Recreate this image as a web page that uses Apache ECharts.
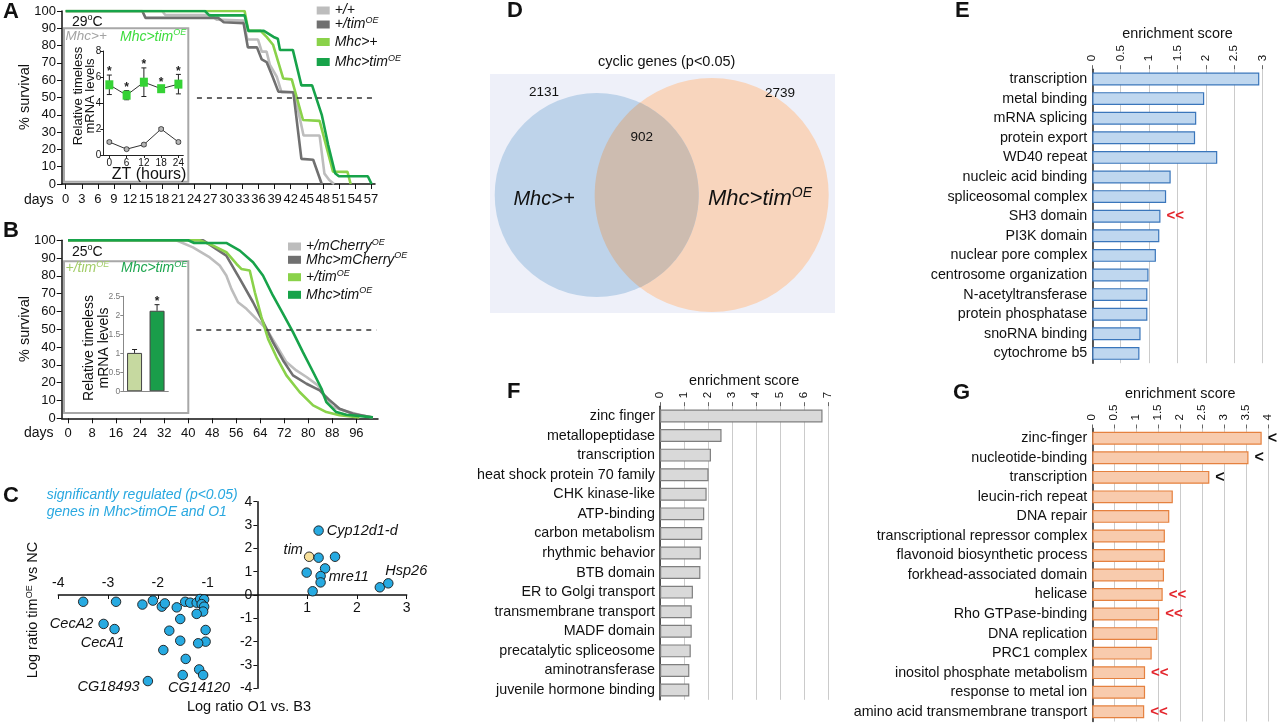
<!DOCTYPE html>
<html><head><meta charset="utf-8">
<script src="https://cdn.jsdelivr.net/npm/echarts@6/dist/echarts.min.js"></script>
<style>html,body{margin:0;padding:0;background:#fff}#c{width:1280px;height:727px}</style>
</head><body><div id="c"></div>
<script>
const FONT = "'Liberation Sans', Arial, Helvetica, sans-serif";
const INK = '#111';

// ---------- Panel A: survival at 29C ----------
const survA_pp = [[0,100],[18,100],[18.6,97.7],[27,97.7],[28.2,95],[33.2,94.5],[33.9,83.5],[35.9,83.5],[36.6,76.5],[37.5,76.5],[38.1,69],[39.4,62],[40.3,53],[42.5,53],[42.8,51],[44.4,28],[47.4,28],[48.3,6],[49.2,2.3],[50.1,0]];
const survA_tim = [[0,100],[14.3,100],[14.9,96],[28.5,96],[29.5,93.5],[33.2,93],[34,79],[35.7,79],[36.6,72],[37.5,70.5],[38.5,63],[39.7,53.4],[42.5,53],[44,14.5],[46.2,14],[47.8,0]];
const survA_mhc = [[0,100],[33.4,100],[34.1,88.5],[36.4,88.5],[37.5,85],[38.7,80.5],[40.6,61],[42.2,60.5],[44.3,37],[47.4,36.5],[49.9,7.1],[52.6,7],[53.2,0]];
const survA_mhctim = [[0,100],[26,100],[26.8,97.5],[33.4,97.5],[34.1,88.5],[37,88.5],[38.8,85],[39.6,84],[40,77.5],[42.4,77.5],[44,57],[46,57],[47.8,40],[49,22.5],[50.3,6.2],[51,4.5],[56.4,4.5],[57.1,0]];
const daysA = [0,3,6,9,12,15,18,21,24,27,30,33,36,39,42,45,48,51,54,57];
const halfA = [24.5, 57.7];
// inset A
const insetZT = [0,6,12,18,24];
const insetTimOE = [5.4,4.6,5.6,5.1,5.45];
const insetTimOEErr = [0.75,0.35,1.1,0.2,0.75];
const insetCtrl = [1.0,0.45,0.8,2.0,1.0];
const insetCtrlErr = [0.1,0.08,0.1,0.1,0.12];

// ---------- Panel B: survival at 25C ----------
const survB_mch = [[0,100],[36,100],[41.6,96],[47.2,90.4],[50.5,85.8],[52.7,80.2],[54.4,72.7],[56.6,65.2],[59.4,61.5],[62.7,55.9],[66,50.3],[69.4,40.9],[72.7,31.6],[76,26.9],[79.4,23.2],[83.2,18.5],[86,10],[88.2,6.3],[91.5,4.5],[97,2],[101.5,0.5]];
const survB_mhcmch = [[0,100],[45,100],[49.4,95],[52.7,91.4],[57.2,78.3],[61.6,65.2],[65.5,52.2],[68.2,42.8],[71.6,32.5],[74.9,24.1],[79.4,19.4],[83.8,15.7],[87.1,10.1],[90.4,5.4],[94.9,2.6],[101.5,0.5]];
const survB_tim = [[0,100],[43.8,100],[48.3,97],[52.7,93.3],[56.1,86.7],[57.7,83.9],[60.5,83],[62.2,70.8],[64.4,56.8],[66.6,44.6],[69.4,34.4],[72.7,24.1],[77.1,14.8],[81.6,7.3],[86,3.5],[90.4,1.7],[97,0.5]];
const survB_mhctim = [[0,100],[40,100],[42,98.5],[52.7,98.5],[57.2,94.2],[61.6,87.7],[64.9,80.2],[68.2,69],[71.6,58.7],[74.9,48.4],[78.2,37.2],[81.6,26],[84.4,16.6],[86,9.1],[89.3,3.5],[92.7,2],[101.5,0.5]];
const daysB = [0,8,16,24,32,40,48,56,64,72,80,88,96];
const halfB = [42.7, 102.7];
// inset B
const insetBNames = ['+/timOE','Mhc>timOE'];
const insetBVals = [1.01, 2.12];
const insetBErr = [0.09, 0.16];
const insetBStar = [false, true];

// ---------- Panel C: scatter ----------
const cX = [-3.50,-2.84,-2.31,-2.10,-1.92,-1.86,-1.62,-1.45,-1.35,-1.22,-1.15,-1.07,-1.12,-1.07,-1.09,-1.22,-1.55,-1.77,-1.55,-1.04,-1.04,-1.19,-1.89,-1.44,-1.17,-1.50,-1.09,-2.20,-3.09,-2.87,1.23,1.04,1.23,1.56,0.99,1.36,1.27,1.27,1.11,2.46,2.63];
const cY = [-0.29,-0.29,-0.41,-0.24,-0.50,-0.36,-0.53,-0.29,-0.33,-0.33,-0.17,-0.19,-0.39,-0.50,-0.71,-0.81,-1.03,-1.53,-1.96,-1.50,-2.00,-2.07,-2.36,-2.74,-3.19,-3.43,-3.43,-3.69,-1.24,-1.46,2.76,1.64,1.60,1.64,0.96,1.14,0.81,0.54,0.16,0.33,0.50];
const cNames = ['','','','','','','','','','','','','','','','','','','','','','','','','','','CG14120','CG18493','CecA2','CecA1','Cyp12d1-d','tim','','','','','','mre11','','','Hsp26'];
const cTicksNeg = [-4,-3,-2,-1];
const cTicksPos = [1,2,3];

// ---------- Panel D: Venn ----------
const vennNames = ['Mhc>+','Mhc>timOE','both'];
const vennOnly = [2131, 2739];
const vennBoth = 902;

// ---------- Panels E, F, G ----------
const eTerms = ['transcription','metal binding','mRNA splicing','protein export','WD40 repeat','nucleic acid binding','spliceosomal complex','SH3 domain','PI3K domain','nuclear pore complex','centrosome organization','N-acetyltransferase','protein phosphatase','snoRNA binding','cytochrome b5'];
const eScores = [2.94,1.97,1.83,1.81,2.20,1.38,1.30,1.20,1.18,1.12,0.99,0.97,0.97,0.85,0.83];
const eMarks = ['','','','','','','','<<','','','','','','',''];
const fTerms = ['zinc finger','metallopeptidase','transcription','heat shock protein 70 family','CHK kinase-like','ATP-binding','carbon metabolism','rhythmic behavior','BTB domain','ER to Golgi transport','transmembrane transport','MADF domain','precatalytic spliceosome','aminotransferase','juvenile hormone binding'];
const fScores = [6.76,2.56,2.12,2.02,1.94,1.84,1.76,1.70,1.68,1.37,1.32,1.32,1.28,1.22,1.22];
const gTerms = ['zinc-finger','nucleotide-binding','transcription','leucin-rich repeat','DNA repair','transcriptional repressor complex','flavonoid biosynthetic process','forkhead-associated domain','helicase','Rho GTPase-binding','DNA replication','PRC1 complex','inositol phosphate metabolism','response to metal ion','amino acid transmembrane transport'];
const gScores = [3.85,3.55,2.66,1.83,1.75,1.65,1.65,1.63,1.60,1.52,1.48,1.35,1.20,1.20,1.18];
const gMarks = ['<','<','<','','','','','','<<','<<','','','<<','','<<'];

// ---------- styles / layout ----------
const C_LG = '#bdbdbd', C_DG = '#707070', C_LGR = '#8ad24a', C_DGR = '#17a34a';
const vennLayout = {cx:[106.7,221.7], cy:[121,121], r:[102,117], fill:['#bed3ea','#f8d5bd','#cdbcb0'], z2:[5,0,10]};
const cLabelLayout = {
  CecA2:{position:'left', distance:5},
  CecA1:{position:'bottom', distance:1, offset:[-12,0]},
  CG18493:{position:'left', distance:3, offset:[0,6]},
  CG14120:{position:'bottom', distance:0, offset:[-4,0]},
  'Cyp12d1-d':{position:'right', distance:3},
  tim:{position:'left', distance:1, offset:[0,-7]},
  mre11:{position:'right', distance:3, offset:[0,-5]},
  Hsp26:{position:'top', distance:0, offset:[18,0]}
};
const richSup = (size, color, italic) => ({
  i:{fontSize:size, fontStyle:italic?'italic':'normal', color, lineHeight:size+3, fontFamily:FONT},
  n:{fontSize:size, fontStyle:'normal', color, lineHeight:size+3, fontFamily:FONT},
  s:{fontSize:Math.round(size*0.62), fontStyle:italic?'italic':'normal', color, lineHeight:Math.round(size*0.7), verticalAlign:'top', fontFamily:FONT}
});
const legendText = {
  A1:'{i|+/+}', A2:'{i|+/tim}{s|OE}', A3:'{i|Mhc>+}', A4:'{i|Mhc>tim}{s|OE}',
  B1:'{i|+/mCherry}{s|OE}', B2:'{i|Mhc>mCherry}{s|OE}', B3:'{i|+/tim}{s|OE}', B4:'{i|Mhc>tim}{s|OE}'
};
function legendAt(name, left, top){
  return {data:[name], left, top, orient:'vertical', padding:0, icon:'rect', itemWidth:13, itemHeight:8, itemGap:0,
    selectedMode:false, formatter:n=>legendText[n], textStyle:{fontFamily:FONT, fontSize:14, color:INK, rich:richSup(14, INK, true)}};
}
const axL = (w,c) => ({show:true, onZero:false, lineStyle:{color:c||INK, width:w||1.5}});

function lineS(name, xi, yi, data, color){
  return {name, type:'line', xAxisIndex:xi, yAxisIndex:yi, data, symbol:'none', showSymbol:false,
    lineStyle:{color, width:2.6}, itemStyle:{color}, z:3, silent:true};
}
function halfLine(range){
  return {silent:true, symbol:['none','none'], label:{show:false}, lineStyle:{type:[5,5], color:'#333', width:1.5},
    data:[[{coord:[range[0],50]},{coord:[range[1],50]}]]};
}
function errRender(capHalf, stars, oneSided){
  return function(params, api){
    const x = api.value(0), y = api.value(1), e = api.value(2);
    const p = api.coord([x,y]), pt = api.coord([x,y+e]), pb = api.coord([x, oneSided ? y : y-e]);
    const st = {stroke:'#222', lineWidth:1};
    const ch = [
      {type:'line', shape:{x1:p[0], y1:pt[1], x2:p[0], y2:pb[1]}, style:st},
      {type:'line', shape:{x1:p[0]-capHalf, y1:pt[1], x2:p[0]+capHalf, y2:pt[1]}, style:st}
    ];
    if (!oneSided) ch.push({type:'line', shape:{x1:p[0]-capHalf, y1:pb[1], x2:p[0]+capHalf, y2:pb[1]}, style:st});
    if (stars && stars[params.dataIndex]) ch.push({type:'text', x:p[0], y:pt[1]+3, style:{text:'*', align:'center', verticalAlign:'bottom', fontSize:12, fontWeight:'bold', fontFamily:FONT, fill:'#222'}});
    return {type:'group', children:ch};
  };
}
function barAxisX(gi, max, interval, gap){
  return {gridIndex:gi, type:'value', position:'top', min:0, max, interval,
    name:'enrichment score', nameLocation:'middle', nameGap:gap, nameTextStyle:{fontSize:14.4, color:INK, fontFamily:FONT},
    axisLine:{show:false}, axisTick:{show:true, length:4, lineStyle:{color:'#666'}},
    axisLabel:{rotate:-90, fontSize:11.5, color:INK, margin:8, fontFamily:FONT},
    splitLine:{show:true, lineStyle:{color:'#cbcbcb', width:1}}};
}
function barAxisY(gi, terms){
  return {gridIndex:gi, type:'category', data:terms, inverse:true, axisLine:axL(1.6,'#333'), axisTick:{show:false},
    axisLabel:{fontSize:14.3, color:INK, margin:5, fontFamily:FONT, interval:0}, splitLine:{show:false}};
}
function barS(xi, yi, vals, marks, fill, border){
  return {type:'bar', xAxisIndex:xi, yAxisIndex:yi, data:vals, barWidth:'66%', silent:true,
    itemStyle:{color:fill, borderColor:border, borderWidth:1.2},
    label:{show:true, position:'right', distance:6,
      formatter:p=>{const m = marks ? marks[p.dataIndex] : ''; return !m ? '' : (m==='<<' ? '{r|<<}' : '{k|<}');},
      rich:{r:{color:'#e3242b', fontSize:15, fontWeight:'bold', fontFamily:FONT}, k:{color:'#111', fontSize:16, fontWeight:'bold', fontFamily:FONT}}}};
}

const gridBase = {containLabel:false, outerBoundsMode:'none'};
const grids = [
  {left:62, top:11, width:313, height:173},
  {left:103.3, top:51, width:80, height:104},
  {left:61.7, top:240.3, width:316.3, height:178},
  {left:123.3, top:296.3, width:45, height:95},
  {left:58.3, top:501.7, width:348.4, height:186.6},
  {left:490, top:74, width:345, height:239, show:true, backgroundColor:'#eef0f9', borderWidth:0},
  {left:1092.3, top:69.2, width:170.4, height:294},
  {left:660, top:406.2, width:168.3, height:293.6},
  {left:1092.3, top:428.5, width:176, height:293}
].map(g=>Object.assign({}, gridBase, g));
// C panel: the axes cross at (0,0) inside the grid
const cZeroOffX = -(grids[4].height * 4/8);
const cZeroOffY = -(grids[4].width * 4/7);

const tickLab = (size, extra) => Object.assign({fontSize:size, color:INK, fontFamily:FONT}, extra||{});

const xAxis = [
  {gridIndex:0, type:'value', min:-0.69, max:57.74, axisLine:axL(), splitLine:{show:false},
    axisTick:{show:true, length:5, customValues:daysA, lineStyle:{color:INK}}, axisLabel:tickLab(13,{customValues:daysA, margin:9})},
  {gridIndex:1, type:'value', z:10, min:-2.1, max:25.7, axisLine:axL(1,'#222'), splitLine:{show:false},
    axisTick:{show:true, length:3, customValues:insetZT, lineStyle:{color:'#222'}}, axisLabel:tickLab(10,{customValues:insetZT, margin:3})},
  {gridIndex:2, type:'value', min:-2.1, max:103.2, axisLine:axL(), splitLine:{show:false},
    axisTick:{show:true, length:5, customValues:daysB, lineStyle:{color:INK}}, axisLabel:tickLab(13,{customValues:daysB, margin:9})},
  {gridIndex:3, type:'category', z:10, data:insetBNames, axisLine:axL(1,'#888'), axisTick:{show:false}, axisLabel:{show:false}},
  {gridIndex:4, type:'value', position:'bottom', offset:cZeroOffX, min:-4, max:3, axisLine:axL(1.5), splitLine:{show:false},
    axisTick:{show:true, length:4, customValues:[...cTicksNeg, ...cTicksPos], lineStyle:{color:INK}},
    axisLabel:tickLab(14,{customValues:cTicksNeg, inside:true, margin:5})},
  {gridIndex:4, type:'value', position:'bottom', offset:cZeroOffX, min:-4, max:3, axisLine:{show:false, onZero:false}, splitLine:{show:false},
    axisTick:{show:false}, axisLabel:tickLab(14,{customValues:cTicksPos, margin:6})},
  {gridIndex:5, type:'value', min:0, max:345, show:false},
  barAxisX(6, 3, 0.5, 27),
  barAxisX(7, 7, 1, 16),
  barAxisX(8, 4, 0.5, 25)
];
const yAxis = [
  {gridIndex:0, type:'value', min:0, max:100, interval:10, axisLine:axL(), splitLine:{show:false},
    axisTick:{show:true, length:5, lineStyle:{color:INK}}, axisLabel:tickLab(13,{margin:6})},
  {gridIndex:1, type:'value', z:10, min:0, max:8, interval:2, axisLine:axL(1,'#222'), splitLine:{show:false},
    axisTick:{show:true, length:3, lineStyle:{color:'#222'}}, axisLabel:tickLab(10,{margin:2})},
  {gridIndex:2, type:'value', min:0, max:100, interval:10, axisLine:axL(), splitLine:{show:false},
    axisTick:{show:true, length:5, lineStyle:{color:INK}}, axisLabel:tickLab(13,{margin:6})},
  {gridIndex:3, type:'value', z:10, min:0, max:2.5, interval:0.5, axisLine:axL(1,'#888'), splitLine:{show:false},
    axisTick:{show:true, length:3, lineStyle:{color:'#888'}}, axisLabel:{fontSize:8.5, color:'#777', margin:3, fontFamily:FONT}},
  {gridIndex:4, type:'value', position:'left', offset:cZeroOffY, min:-4, max:4, interval:1, axisLine:axL(1.5), splitLine:{show:false},
    axisTick:{show:true, length:4, lineStyle:{color:INK}}, axisLabel:tickLab(14,{margin:5})},
  {gridIndex:5, type:'value', min:0, max:239, inverse:true, show:false},
  barAxisY(6, eTerms), barAxisY(7, fTerms), barAxisY(8, gTerms)
];

const cData = cX.map((x,i)=>{
  const name = cNames[i];
  const item = {value:[x, cY[i]], name};
  if (name === 'tim') item.itemStyle = {color:'#f8e09a'};
  if (name) item.label = Object.assign({show:true, formatter:'{b}'}, cLabelLayout[name]);
  return item;
});

function vennRender(params, api){
  const L = vennLayout, i = params.dataIndex;
  const pc = k => api.coord([L.cx[k], L.cy[k]]);
  const rad = k => Math.abs(api.coord([L.cx[k]+L.r[k], L.cy[k]])[0] - pc(k)[0]);
  if (i < 2) {
    const c = pc(i);
    return {type:'circle', z2:L.z2[i], shape:{cx:c[0], cy:c[1], r:rad(i)}, style:{fill:L.fill[i]}};
  }
  const c1 = pc(0), c2 = pc(1), r1 = rad(0), r2 = rad(1);
  const d = c2[0]-c1[0];
  const a = (d*d + r1*r1 - r2*r2)/(2*d), h = Math.sqrt(r1*r1 - a*a);
  const a1 = Math.atan2(h, a), a2 = Math.atan2(h, a-d);
  const pts = [];
  for (let k=0;k<=80;k++){ const t = -a1 + 2*a1*k/80; pts.push([c1[0]+r1*Math.cos(t), c1[1]+r1*Math.sin(t)]); }
  for (let k=0;k<=80;k++){ const t = a2 + (2*Math.PI-2*a2)*k/80; pts.push([c2[0]+r2*Math.cos(t), c2[1]+r2*Math.sin(t)]); }
  return {type:'polygon', z2:L.z2[2], shape:{points:pts}, style:{fill:L.fill[2]}};
}

const series = [
  Object.assign(lineS('A1',0,0,survA_pp,C_LG), {markLine:halfLine(halfA)}),
  lineS('A2',0,0,survA_tim,C_DG),
  lineS('A3',0,0,survA_mhc,C_LGR),
  lineS('A4',0,0,survA_mhctim,C_DGR),
  {type:'custom', xAxisIndex:1, yAxisIndex:1, renderItem:errRender(2.5,null,false), data:insetZT.map((t,i)=>[t,insetCtrl[i],insetCtrlErr[i]]), encode:{x:0,y:1}, z:3, silent:true},
  {type:'custom', xAxisIndex:1, yAxisIndex:1, renderItem:errRender(2.5,insetZT.map(()=>true),false), data:insetZT.map((t,i)=>[t,insetTimOE[i],insetTimOEErr[i]]), encode:{x:0,y:1}, z:3, silent:true},
  {type:'line', xAxisIndex:1, yAxisIndex:1, data:insetZT.map((t,i)=>[t,insetCtrl[i]]), symbol:'circle', symbolSize:5, showSymbol:true,
    lineStyle:{color:'#333', width:1}, itemStyle:{color:'#b5b5b5', borderColor:'#333', borderWidth:0.8}, z:4, silent:true},
  {type:'line', xAxisIndex:1, yAxisIndex:1, data:insetZT.map((t,i)=>[t,insetTimOE[i]]), symbol:'rect', symbolSize:[8,9], showSymbol:true,
    lineStyle:{color:'#333', width:1}, itemStyle:{color:'#35d235'}, z:4, silent:true},
  Object.assign(lineS('B1',2,2,survB_mch,C_LG), {markLine:halfLine(halfB)}),
  lineS('B2',2,2,survB_mhcmch,C_DG),
  lineS('B3',2,2,survB_tim,C_LGR),
  lineS('B4',2,2,survB_mhctim,C_DGR),
  {type:'bar', xAxisIndex:3, yAxisIndex:3, barWidth:15, silent:true, z:4,
    data:insetBVals.map((v,i)=>({value:v, itemStyle:{color:['#c6d9a0','#1a9d4a'][i]}})), itemStyle:{borderColor:'#444', borderWidth:1}},
  {type:'custom', xAxisIndex:3, yAxisIndex:3, renderItem:errRender(2.5,insetBStar,true), data:insetBVals.map((v,i)=>[i,v,insetBErr[i]]), encode:{x:0,y:1}, z:5, silent:true},
  {type:'scatter', xAxisIndex:4, yAxisIndex:4, data:cData, symbolSize:9.5, silent:true, z:4,
    itemStyle:{color:'#27aae1', borderColor:'#1a1a1a', borderWidth:0.9, opacity:1},
    label:{show:false, fontSize:14.5, fontStyle:'italic', color:INK, fontFamily:FONT}},
  {type:'custom', coordinateSystem:'cartesian2d', xAxisIndex:6, yAxisIndex:5, data:vennNames.map((n,i)=>[i]), silent:true, clip:false,
    renderItem:vennRender},
  barS(7,6,eScores,eMarks,'#bfd7ef','#3a76bb'),
  barS(8,7,fScores,null,'#d9d9d9','#7f7f7f'),
  barS(9,8,gScores,gMarks,'#f8cbad','#e5813f')
];

function T(x, y, text, o){
  o = o || {};
  const size = o.size || 14, color = o.color || INK;
  return {type:'text', x, y, rotation:o.rot||0, z:100, silent:true,
    style:{text, fontSize:size, fontFamily:FONT, fontStyle:o.italic?'italic':'normal', fontWeight:o.bold?'bold':'normal',
      fill:color, align:o.align||'left', verticalAlign:'middle', rich:richSup(size, color, !!o.italic)}};
}
const R90 = Math.PI/2;
const graphic = {elements:[
  {type:'rect', z:1, silent:true, shape:{x:64, y:28.3, width:124.3, height:153.4}, style:{fill:'#fff', stroke:'#a8a8a8', lineWidth:2}},
  {type:'rect', z:1, silent:true, shape:{x:64, y:261.3, width:124.3, height:151.7}, style:{fill:'#fff', stroke:'#a8a8a8', lineWidth:2}},
  T(3,12,'A',{size:22,bold:true}), T(3,230.5,'B',{size:22,bold:true}), T(3,496,'C',{size:22,bold:true}),
  T(507,11,'D',{size:22,bold:true}), T(955,11,'E',{size:22,bold:true}), T(507,392,'F',{size:22,bold:true}), T(953,393,'G',{size:22,bold:true}),
  // A
  T(72,21.7,'{n|29}{s|o}{n|C}',{size:14}),
  T(25,97,'% survival',{size:14.5, rot:R90, align:'center'}),
  T(24,200,'days',{size:14}),
  T(65.5,36.7,'{i|Mhc>+}',{size:13.5, italic:true, color:'#a3a3a3'}),
  T(120,36.7,'{i|Mhc>tim}{s|OE}',{size:14, italic:true, color:'#3ddc3d'}),
  T(78.5,96,'{n|Relative }{i|timeless}',{size:13, rot:R90, align:'center'}),
  T(90.5,96,'mRNA levels',{size:13, rot:R90, align:'center'}),
  T(149,174.3,'ZT (hours)',{size:16, align:'center'}),
  // B
  T(72,251.7,'{n|25}{s|o}{n|C}',{size:14}),
  T(25,329,'% survival',{size:14.5, rot:R90, align:'center'}),
  T(24,433.3,'days',{size:14}),
  T(65.5,268.5,'{i|+/tim}{s|OE}',{size:14, italic:true, color:'#a3cd69'}),
  T(121,268.5,'{i|Mhc>tim}{s|OE}',{size:14, italic:true, color:'#1fa650'}),
  T(89,348,'{n|Relative }{i|timeless}',{size:14, rot:R90, align:'center'}),
  T(104,348,'mRNA levels',{size:14, rot:R90, align:'center'}),
  // C
  T(46.7,495,'significantly regulated (p<0.05)',{size:14, italic:true, color:'#29a8e0'}),
  T(46.7,511.7,'genes in Mhc>timOE and O1',{size:14, italic:true, color:'#29a8e0'}),
  T(249,706.7,'Log ratio O1 vs. B3',{size:14.5, align:'center'}),
  T(33.3,610,'{n|Log ratio }{i|tim}{s|OE}{n| vs NC}',{size:14.5, rot:R90, align:'center'}),
  // D
  T(666.7,62,'{n|cyclic genes (}{i|p}{n|<0.05)}',{size:14.5, align:'center'}),
  T(544,92.7,String(vennOnly[0]),{size:13.5, align:'center'}),
  T(780,93,String(vennOnly[1]),{size:13.5, align:'center'}),
  T(641.7,137.7,String(vennBoth),{size:13.5, align:'center'}),
  T(544,199,'{i|Mhc>+}',{size:20, italic:true, align:'center'}),
  T(708,199,'{i|Mhc>tim}{s|OE}',{size:22, italic:true})
]};

const option = {
  animation:false,
  backgroundColor:'#fff',
  textStyle:{fontFamily:FONT},
  grid:grids, xAxis, yAxis, series, graphic,
  legend:[
    legendAt('A1',316.7,3.5), legendAt('A2',316.7,16), legendAt('A3',316.7,35), legendAt('A4',316.7,53.5),
    legendAt('B1',288,238), legendAt('B2',288,251.3), legendAt('B3',288,268.7), legendAt('B4',288,286.3)
  ]
};
const chart = echarts.init(document.getElementById('c'), null, {renderer:'canvas', width:1280, height:727});
chart.setOption(option);
</script></body></html>
